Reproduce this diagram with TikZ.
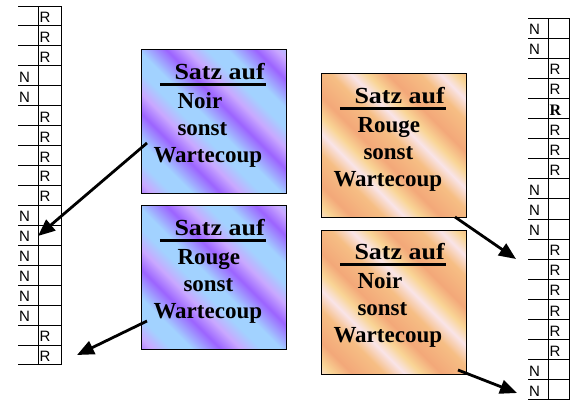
\documentclass[tikz,border=0pt]{standalone}
\usepackage{fontspec}
\setmainfont{Liberation Serif}
\newfontfamily\arialf{Liberation Sans}
\usetikzlibrary{arrows.meta}
\definecolor{lb}{HTML}{A2D2FF}
\definecolor{vi}{HTML}{9C64FF}
\definecolor{lav}{HTML}{C9A8FF}
\definecolor{po}{HTML}{F3A879}
\definecolor{py}{HTML}{F9D596}
\definecolor{pw}{HTML}{F9E4E8}
\definecolor{pp}{HTML}{F6BE84}
\pgfdeclarehorizontalshading{bluestripes}{100bp}{color(0bp)=(lb); color(5bp)=(lb); color(12bp)=(vi); color(17bp)=(lav); color(22bp)=(lb);
 color(27bp)=(lb); color(34bp)=(vi); color(39bp)=(lav); color(44bp)=(lb); color(49bp)=(lb); color(56bp)=(vi); color(61bp)=(lav);
 color(66bp)=(lb); color(71bp)=(lb); color(78bp)=(vi); color(83bp)=(lav); color(88bp)=(lb); color(93bp)=(lb); color(100bp)=(vi)}
\pgfdeclarehorizontalshading{orangestripes}{100bp}{color(0bp)=(po); color(8bp)=(pp); color(13bp)=(pw); color(17bp)=(py); color(22bp)=(po);
 color(30bp)=(pp); color(35bp)=(pw); color(39bp)=(py); color(44bp)=(po); color(52bp)=(pp); color(57bp)=(pw); color(61bp)=(py);
 color(66bp)=(po); color(74bp)=(pp); color(79bp)=(pw); color(83bp)=(py); color(88bp)=(po); color(96bp)=(pp); color(100bp)=(pw)}
\tikzset{
  box/.style={draw=black, line width=1pt, anchor=north west, inner sep=0pt,
    minimum width=144.5pt, minimum height=144pt, shade, shading angle=45},
  bluebox/.style={box, shading=bluestripes},
  orangebox/.style={box, shading=orangestripes},
  bt/.style={anchor=base west, inner sep=0pt, font=\fontsize{23}{23}\selectfont\bfseries},
  ul/.style={line width=2.8pt},
  lab/.style={anchor=base west, inner sep=0pt, font=\arialf\fontsize{15}{15}\selectfont},
  labs/.style={anchor=base west, inner sep=0pt, font=\fontsize{16}{16}\selectfont\bfseries},
  grid/.style={line width=0.9pt},
  arr/.style={line width=2.8pt, -{Triangle[length=17pt,width=14pt]}}
}
\newcommand\boxtexts[3]{%
 \node[bt] (#1s) at ([shift={(33,30)}]#1.north west) {\scalebox{1.13}[1]{Satz auf}};
 \draw[ul] ([shift={(18.5,35.3)}]#1.north west) -- ([shift={(125,35.3)}]#1.north west);
 \node[bt] (#1a) at ([shift={(36,59)}]#1.north west) {#2};
 \node[bt] (#1b) at ([shift={(#3,86)}]#1.north west) {sonst};
 \node[bt] (#1c) at ([shift={(12,113)}]#1.north west) {Wartecoup};
}
\begin{document}
\begin{tikzpicture}[x=1pt,y=-1pt]
\useasboundingbox (0,0) rectangle (580,407);
\fill[white] (0,0) rectangle (580,407);

% left table
\foreach \t [count=\i from 0] in {R,R,R,N,N,R,R,R,R,R,N,N,N,N,N,N,R,R} {
  \pgfmathsetmacro\yb{6+(\i+1)*19.94}
  \draw[grid] (18,\yb) -- (61,\yb);
  \if\t N
    \node[lab] (L\i) at (19,\yb-3.5) {N};
  \else
    \node[lab] (L\i) at (39.5,\yb-3.5) {R};
  \fi
}
\draw[grid] (18,6) -- (61,6);
\draw[grid] (38,6) -- (38,365);
\draw[grid] (61,6) -- (61,365);

% right table
\foreach \t [count=\i from 0] in {N,N,R,R,S,R,R,R,N,N,N,R,R,R,R,R,R,N,N} {
  \pgfmathsetmacro\yb{18+(\i+1)*20.1}
  \draw[grid] (528,\yb) -- (569,\yb);
  \if\t N
    \node[lab] (Q\i) at (529,\yb-3.5) {N};
  \else
    \if\t S
      \node[labs] (Q\i) at (549.5,\yb-3.5) {R};
    \else
      \node[lab] (Q\i) at (549.5,\yb-3.5) {R};
    \fi
  \fi
}
\draw[grid] (528,18) -- (569,18);
\draw[grid] (548,18) -- (548,400);
\draw[grid] (569,18) -- (569,400);

% boxes
\node[bluebox] (b1) at (141.3,49) {};
\node[bluebox] (b2) at (141.3,205) {};
\node[orangebox] (b3) at (321.3,73) {};
\node[orangebox] (b4) at (321.3,229.5) {};
\boxtexts{b1}{Noir}{36}
\boxtexts{b2}{Rouge}{42}
\boxtexts{b3}{Rouge}{42}
\boxtexts{b4}{Noir}{36}

% arrows
\coordinate (a1s) at (147,143);
\coordinate (a1e) at (38,236);
\coordinate (a2s) at (147,321);
\coordinate (a2e) at (77,355);
\coordinate (a3s) at (455,217);
\coordinate (a3e) at (516,259);
\coordinate (a4s) at (458,370);
\coordinate (a4e) at (517,393);
\draw[arr] (a1s) -- (a1e);
\draw[arr] (a2s) -- (a2e);
\draw[arr] (a3s) -- (a3e);
\draw[arr] (a4s) -- (a4e);
\end{tikzpicture}
\end{document}
